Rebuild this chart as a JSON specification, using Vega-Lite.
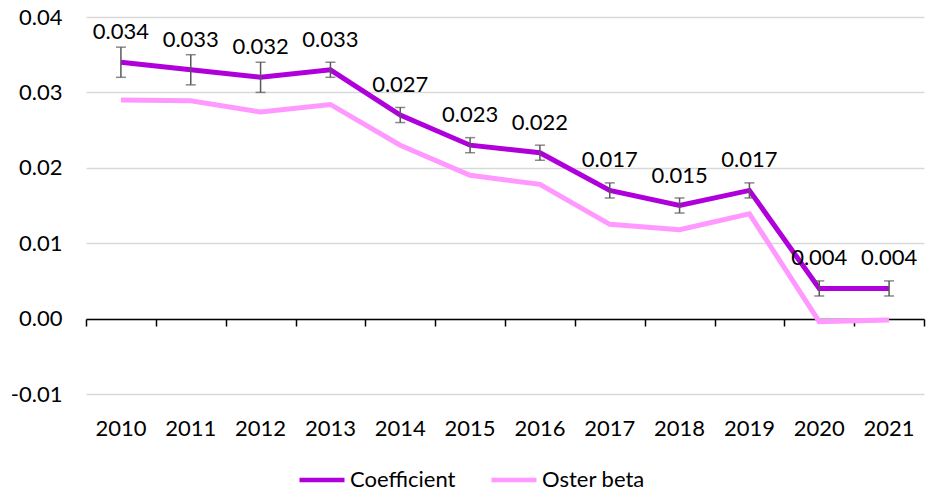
{
  "$schema": "https://vega.github.io/schema/vega-lite/v6.json",
  "width": 838,
  "height": 377,
  "autosize": {"type": "none"},
  "padding": {"left": 86, "top": 17, "right": 6, "bottom": 99},
  "background": "white",
  "config": {
    "view": {"stroke": null},
    "font": "Lato",
    "axis": {"labelFont": "Lato", "labelFontSize": 22, "labelColor": "#000000"},
    "legend": {"labelFont": "Lato", "labelFontSize": 22, "labelColor": "#000000"}
  },
  "data": {
    "values": [
      {"year": "2010", "series": "Coefficient", "value": 0.034, "lo": 0.032, "hi": 0.036},
      {"year": "2011", "series": "Coefficient", "value": 0.033, "lo": 0.031, "hi": 0.035},
      {"year": "2012", "series": "Coefficient", "value": 0.032, "lo": 0.030, "hi": 0.034},
      {"year": "2013", "series": "Coefficient", "value": 0.033, "lo": 0.032, "hi": 0.034},
      {"year": "2014", "series": "Coefficient", "value": 0.027, "lo": 0.026, "hi": 0.028},
      {"year": "2015", "series": "Coefficient", "value": 0.023, "lo": 0.022, "hi": 0.024},
      {"year": "2016", "series": "Coefficient", "value": 0.022, "lo": 0.021, "hi": 0.023},
      {"year": "2017", "series": "Coefficient", "value": 0.017, "lo": 0.016, "hi": 0.018},
      {"year": "2018", "series": "Coefficient", "value": 0.015, "lo": 0.014, "hi": 0.016},
      {"year": "2019", "series": "Coefficient", "value": 0.017, "lo": 0.016, "hi": 0.018},
      {"year": "2020", "series": "Coefficient", "value": 0.004, "lo": 0.003, "hi": 0.005},
      {"year": "2021", "series": "Coefficient", "value": 0.004, "lo": 0.003, "hi": 0.005},
      {"year": "2010", "series": "Oster beta", "value": 0.0290},
      {"year": "2011", "series": "Oster beta", "value": 0.0289},
      {"year": "2012", "series": "Oster beta", "value": 0.0274},
      {"year": "2013", "series": "Oster beta", "value": 0.0284},
      {"year": "2014", "series": "Oster beta", "value": 0.0230},
      {"year": "2015", "series": "Oster beta", "value": 0.0190},
      {"year": "2016", "series": "Oster beta", "value": 0.0178},
      {"year": "2017", "series": "Oster beta", "value": 0.0125},
      {"year": "2018", "series": "Oster beta", "value": 0.0118},
      {"year": "2019", "series": "Oster beta", "value": 0.0139},
      {"year": "2020", "series": "Oster beta", "value": -0.0004},
      {"year": "2021", "series": "Oster beta", "value": -0.0002}
    ]
  },
  "layer": [
    {
      "mark": {"type": "line", "strokeWidth": 5},
      "encoding": {
        "x": {
          "field": "year", "type": "nominal",
          "scale": {"type": "band", "paddingInner": 0, "paddingOuter": 0},
          "axis": {"title": null, "orient": "bottom", "labelAngle": 0, "domain": false, "ticks": false, "labelPadding": 24, "grid": false}
        },
        "y": {
          "field": "value", "type": "quantitative",
          "scale": {"domain": [-0.01, 0.04], "nice": false, "zero": false},
          "axis": {
            "title": null,
            "values": [-0.01, 0, 0.01, 0.02, 0.03, 0.04],
            "labelExpr": "datum.value < 0 ? '-' + format(-datum.value, '.2f') : format(datum.value, '.2f')",
            "domain": false, "ticks": false, "labelPadding": 24,
            "grid": true, "gridColor": "#d9d9d9", "gridWidth": 1.3
          }
        },
        "color": {
          "field": "series", "type": "nominal",
          "scale": {"domain": ["Coefficient", "Oster beta"], "range": ["#AF00DB", "#FF99FF"]},
          "legend": {
            "title": null, "orient": "none", "direction": "horizontal",
            "legendX": 211, "legendY": 438,
            "symbolType": "stroke", "symbolSize": 2025, "symbolStrokeWidth": 4.5,
            "labelOffset": 3, "columnPadding": 26
          }
        }
      }
    },
    {
      "transform": [{"filter": "datum.series === 'Coefficient'"}],
      "mark": {"type": "rule", "color": "#595959", "strokeWidth": 1.5},
      "encoding": {
        "x": {
          "field": "year", "type": "nominal",
          "axis": {"title": null, "orient": "bottom", "labels": false, "domain": true, "domainColor": "#000000", "domainWidth": 1.5, "ticks": true, "tickColor": "#000000", "tickWidth": 1.5, "tickSize": 7, "tickBand": "extent", "offset": -75, "grid": false}
        },
        "y": {"field": "lo", "type": "quantitative"},
        "y2": {"field": "hi"}
      }
    },
    {
      "transform": [{"filter": "datum.series === 'Coefficient'"}],
      "mark": {"type": "tick", "color": "#595959", "thickness": 1.5, "size": 10},
      "encoding": {
        "x": {"field": "year", "type": "nominal", "axis": null},
        "y": {"field": "lo", "type": "quantitative"}
      }
    },
    {
      "transform": [{"filter": "datum.series === 'Coefficient'"}],
      "mark": {"type": "tick", "color": "#595959", "thickness": 1.5, "size": 10},
      "encoding": {
        "x": {"field": "year", "type": "nominal", "axis": null},
        "y": {"field": "hi", "type": "quantitative"}
      }
    },
    {
      "transform": [{"filter": "datum.series === 'Coefficient'"}],
      "mark": {"type": "text", "dy": -30, "fontSize": 22, "font": "Lato", "color": "#000000"},
      "encoding": {
        "x": {"field": "year", "type": "nominal", "axis": null},
        "y": {"field": "value", "type": "quantitative"},
        "text": {"field": "value", "type": "quantitative", "format": ".3f"}
      }
    }
  ],
  "resolve": {"axis": {"x": "independent"}}
}
